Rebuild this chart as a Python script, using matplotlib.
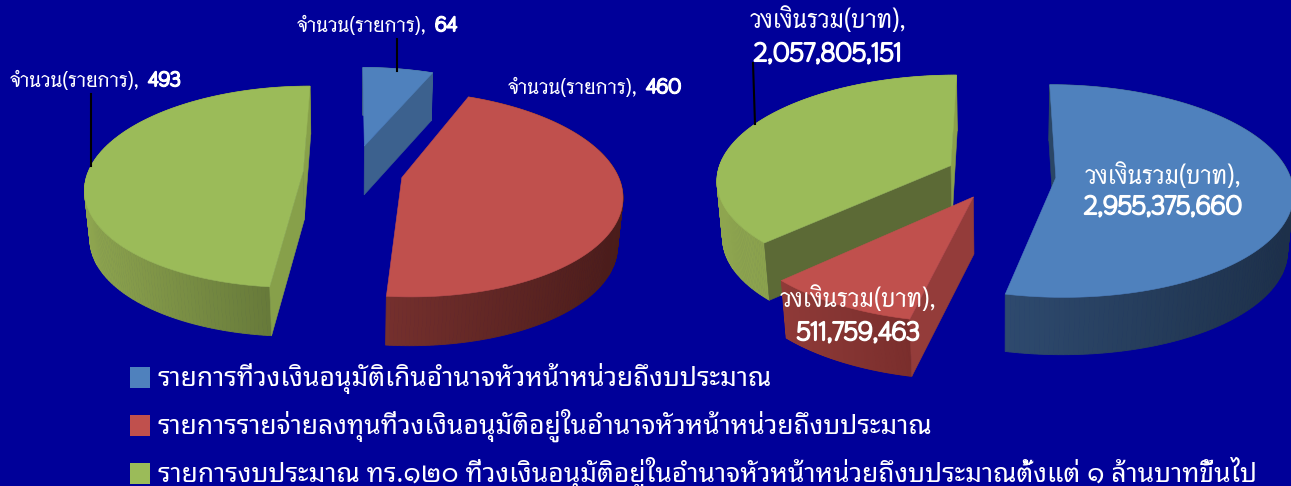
import numpy as np
import matplotlib
matplotlib.use('Agg')
import matplotlib.pyplot as plt
import matplotlib.patheffects as pe
from matplotlib.colors import to_rgb

bg = '#000099'

# data
left_values = [64, 460, 493]
right_values = [2955375660, 511759463, 2057805151]
legend_labels = ['รายการที่วงเงินอนุมัติเกินอำนาจหัวหน้าหน่วยถึงบประมาณ',
                 'รายการรายจ่ายลงทุนที่วงเงินอนุมัติอยู่ในอำนาจหัวหน้าหน่วยถึงบประมาณ',
                 'รายการงบประมาณ ทร.๑๒๐ ที่วงเงินอนุมัติอยู่ในอำนาจหัวหน้าหน่วยถึงบประมาณตั้งแต่ ๑ ล้านบาทขึ้นไป']
count_label = 'จำนวน(รายการ),'
money_label = 'วงเงินรวม(บาท),'

top_colors = ['#4F81BD', '#C0504D', '#9BBB59']
legend_colors = ['#4F81BD', '#C0504D', '#9BBB59']

fig = plt.figure(figsize=(12.91, 4.86), dpi=100, facecolor=bg)
ax = fig.add_axes([0, 0, 1, 1])
ax.set_xlim(0, 1291)
ax.set_ylim(486, 0)
ax.axis('off')

kz = 0.02


def project(view, x, y, z):
    cx, cy, R, S, k, D = view
    w = 1 + k * y + kz * z
    sx = cx + R * x / w
    sy = cy - S * y / w + D * z / (1 + 0.05 * y)
    return sx, sy


def draw_slice(view, a0, a1, explode, color, wall, face0, face1):
    mid = np.radians((a0 + a1) / 2)
    ox = explode * np.sin(mid)
    oy = explode * np.cos(mid)
    t = np.radians(np.linspace(a0, a1, 181))
    x = ox + np.sin(t)
    y = oy + np.cos(t)
    xt, yt = project(view, x, y, 0)
    xb, yb = project(view, x, y, 1)
    # outer wall, shaded left to right
    c0, c1 = np.array(to_rgb(wall[0])), np.array(to_rgb(wall[1]))
    lo, hi = xt.min(), xt.max()
    for i in range(len(t) - 1):
        f = ((xt[i] + xt[i + 1]) / 2 - lo) / (hi - lo)
        c = c0 + (c1 - c0) * f
        ax.fill([xt[i], xt[i + 1], xb[i + 1], xb[i]], [yt[i], yt[i + 1], yb[i + 1], yb[i]],
                color=c, lw=0.6)
    # the two cut faces
    ax0t, ay0t = project(view, ox, oy, 0)
    ax0b, ay0b = project(view, ox, oy, 1)
    if face0:
        ax.fill([ax0t, xt[0], xb[0], ax0b], [ay0t, yt[0], yb[0], ay0b], color=face0, lw=0.4)
    if face1:
        ax.fill([ax0t, xt[-1], xb[-1], ax0b], [ay0t, yt[-1], yb[-1], ay0b], color=face1, lw=0.4)
    ax.fill(np.r_[ax0t, xt], np.r_[ay0t, yt], color=color, lw=0.4)


def draw_pie(values, view, explodes, walls, faces):
    shares = np.array(values, dtype=float) / np.sum(values) * 360
    ends = np.cumsum(shares)
    starts = ends - shares
    # back slices first
    depth = [np.cos(np.radians((a + b) / 2)) for a, b in zip(starts, ends)]
    for i in np.argsort(depth)[::-1]:
        draw_slice(view, starts[i], ends[i], explodes[i], top_colors[i], walls[i], faces[i][0], faces[i][1])


draw_pie(left_values, (353, 172, 215, 98.5, 0.158, 49), [0.28, 0.232, 0.232],
         [('#3b5f8a', '#3b5f8a'), ('#75302d', '#4a1c1a'), ('#8ea54f', '#5e7035')],
         [(None, '#3c618e'), (None, None), ('#87a04a', '#87a04a')])
draw_pie(right_values, (1001, 175, 234, 104, 0.125, 57), [0.235, 0.235, 0.235],
         [('#2e4a6e', '#1d3049'), ('#8f3a38', '#7a2e2c'), ('#8ea54f', '#7d9445')],
         [('#2a4666', None), ('#943c3a', None), ('#5c6a36', '#8aa04c')])

# leader lines
ax.plot([396.5, 396.5], [39, 71], color='black', lw=1.5)
ax.plot([91, 91], [94, 166], color='black', lw=1.5)
ax.plot([753, 755], [63, 124], color='black', lw=1.5)

thai = ['Thasadith', 'DejaVu Sans']
heavy = [pe.withStroke(linewidth=1.5, foreground='white')]


def count_text(x, y, num_x, value):
    ax.text(x, y, count_label, family=thai, fontsize=15, color='white', weight='bold', va='center', ha='left')
    ax.text(num_x, y - 1, value, family=thai, fontsize=14.5, color='white', va='center', ha='left',
            path_effects=heavy)


count_text(297, 26, 435, '64')
count_text(10, 81, 148, '493')
count_text(508, 88, 646, '460')


def money_text(x, y1, y2, value):
    ax.text(x, y1, money_label, family=thai, fontsize=18.5, color='white', weight='bold', va='center', ha='center')
    ax.text(x, y2, value, family=thai, fontsize=18.5, color='white', va='center', ha='center',
            path_effects=heavy)


money_text(828, 21, 54, '2,057,805,151')
money_text(1163, 177, 207, '2,955,375,660')
money_text(858, 300, 333, '511,759,463')

# legend
for c, lab, y in zip(legend_colors, legend_labels, [377.5, 425.5, 473.5]):
    ax.fill([130, 150, 150, 130], [y - 10.5, y - 10.5, y + 10.5, y + 10.5], color=c, lw=0)
    ax.text(158, y + 8, lab, family=['Noto Sans Thai Looped', 'DejaVu Sans'], weight='light', fontsize=19,
            color='white', va='baseline', ha='left')

plt.savefig('out.png', dpi=100, facecolor=bg)
